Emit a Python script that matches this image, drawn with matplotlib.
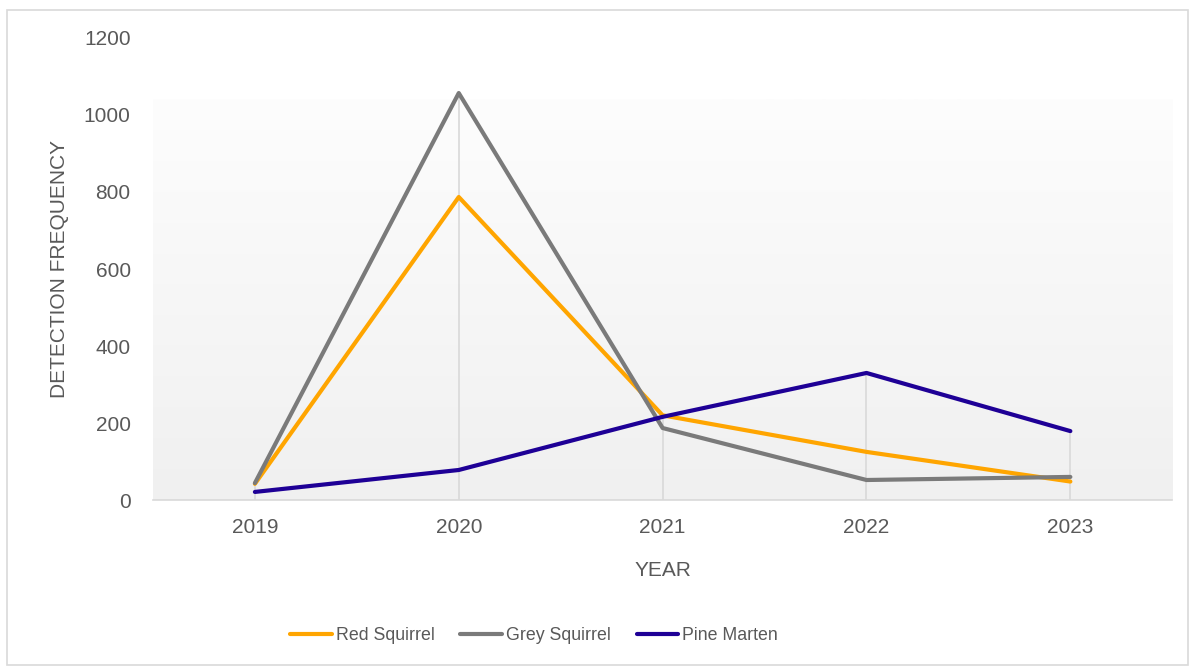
import matplotlib.pyplot as plt
import matplotlib.colors as mcolors
import numpy as np
from matplotlib.patches import Rectangle

plt.rcParams['font.family'] = ['Liberation Sans', 'DejaVu Sans']

years = ["2019", "2020", "2021", "2022", "2023"]
red_squirrel = [42, 787, 220, 125, 48]
grey_squirrel = [44, 1057, 187, 52, 60]
pine_marten = [21, 78, 216, 330, 179]

series = [
    ("Red Squirrel", red_squirrel, '#ffa500'),
    ("Grey Squirrel", grey_squirrel, '#7a7a7a'),
    ("Pine Marten", pine_marten, '#1e0096'),
]

fig = plt.figure(figsize=(11.95, 6.70), dpi=100)
ax = fig.add_axes([0.128, 0.2537, 0.853, 0.6896])

# outer chart border
fig.patches.append(Rectangle((0.006, 0.007), 0.988, 0.978, transform=fig.transFigure,
                             fill=False, edgecolor='#d9d9d9', linewidth=1.2))

# plot area gradient (white -> light grey), starting a bit below the top
grad = np.linspace(1, 0, 256).reshape(-1, 1)
cmap = mcolors.LinearSegmentedColormap.from_list('g', ['#f0f0f0', '#fdfdfd'])
ax.imshow(grad, extent=[0, 1, 0, 0.866], transform=ax.transAxes, aspect='auto',
          cmap=cmap, zorder=0)

x = np.arange(len(years))
# drop lines from the highest point down to the axis
tops = np.max([s[1] for s in series], axis=0)
ax.vlines(x, 0, tops, color='#d9d9d9', lw=1.2, zorder=1)

for name, vals, col in series:
    ax.plot(x, vals, color=col, lw=3, label=name, zorder=3, solid_capstyle='round')

ax.set_xlim(-0.5, 4.5)
ax.set_ylim(0, 1200)
ax.set_xticks(x)
ax.set_xticklabels(years)
ax.set_yticks(range(0, 1201, 200))

for s in ['top', 'right', 'left']:
    ax.spines[s].set_visible(False)
ax.spines['bottom'].set_color('#d9d9d9')
ax.spines['bottom'].set_linewidth(1.2)
ax.tick_params(axis='both', length=0, labelsize=15, labelcolor='#595959')
ax.tick_params(axis='x', pad=13)
ax.tick_params(axis='y', pad=16)

ax.set_xlabel('YEAR', fontsize=15, color='#595959', labelpad=17)
ax.set_ylabel('DETECTION FREQUENCY', fontsize=15, color='#595959', labelpad=11)

fig.legend(loc='center left', bbox_to_anchor=(0.2427, 0.051), ncol=3, frameon=False,
           prop={'size': 12.8}, labelcolor='#595959', handlelength=2.35,
           handletextpad=0.22, columnspacing=1.45, borderpad=0, borderaxespad=0)

fig.savefig('out.png', dpi=100)
